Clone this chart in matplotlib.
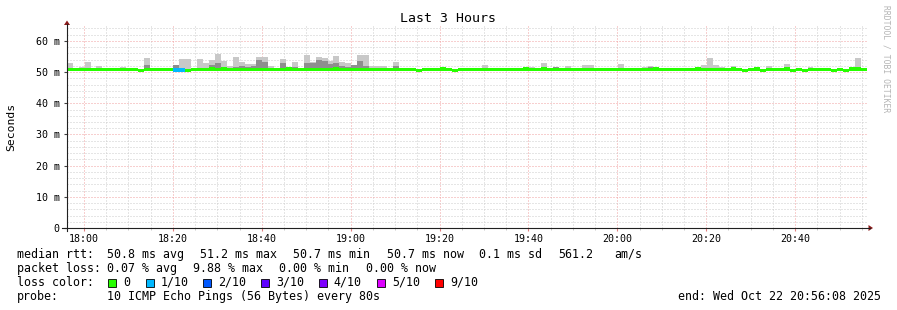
import matplotlib
matplotlib.use("Agg")
import matplotlib.pyplot as plt
from matplotlib.patches import Rectangle, Polygon
from matplotlib.lines import Line2D
import numpy as np

# --- data: 135 steps of 80 s, x in minutes relative to 18:00 ---
start_min = -3.867          # 17:56:08
step_min = 80 / 60.0

median = [50.8, 50.8, 50.8, 50.8, 50.8, 50.8, 50.8, 50.8, 50.8, 50.8, 50.8, 50.8, 50.5, 50.8, 50.8,
          50.8, 50.8, 50.8, 50.7, 50.7, 50.5, 50.8, 50.8, 50.8, 51.0, 50.8, 51.0, 50.8, 50.8, 50.8,
          50.8, 50.8, 50.8, 50.8, 50.8, 50.8, 50.8, 51.0, 50.8, 50.8, 50.8, 50.8, 50.8, 50.8, 50.8,
          51.0, 50.8, 50.8, 50.8, 50.8, 50.8, 50.8, 50.8, 50.8, 50.8, 50.8, 50.8, 50.8, 50.8, 50.5,
          50.8, 50.8, 50.8, 51.0, 50.8, 50.5, 50.8, 50.8, 50.8, 50.8, 50.8, 50.8, 50.8, 50.8, 50.8,
          50.8, 50.8, 51.0, 50.8, 50.8, 51.0, 50.8, 50.8, 50.8, 50.8, 50.8, 50.8, 50.8, 50.8, 50.8,
          50.8, 50.8, 50.8, 50.8, 50.8, 50.8, 50.8, 50.8, 50.8, 51.0, 50.8, 50.8, 50.8, 50.8, 50.8,
          50.8, 51.0, 50.8, 50.8, 50.8, 50.8, 50.8, 51.0, 50.8, 50.5, 50.8, 51.0, 50.5, 50.8, 50.8,
          50.8, 51.0, 50.5, 50.8, 50.5, 50.8, 50.8, 50.8, 50.8, 50.5, 50.8, 50.5, 51.0, 51.0, 50.8]

ping_max = [52.8, 51.1, 51.7, 53.2, 51.1, 51.9, 51.1, 51.3, 51.1, 51.7, 51.1, 51.3, 51.0, 54.5, 51.2,
            51.1, 51.2, 51.1, 52.4, 54.2, 54.2, 51.1, 54.2, 52.9, 53.9, 55.8, 53.5, 51.9, 54.9, 53.2,
            52.6, 52.6, 54.9, 54.9, 51.9, 51.2, 54.2, 51.2, 53.2, 51.1, 55.4, 53.2, 54.9, 54.4, 53.5,
            55.1, 53.2, 52.8, 52.4, 55.5, 55.5, 51.9, 51.9, 51.9, 51.1, 53.2, 51.1, 51.2, 51.1, 51.0,
            51.1, 51.2, 51.1, 51.2, 51.1, 51.0, 51.2, 51.1, 51.1, 51.1, 52.4, 51.1, 51.2, 51.1, 51.1,
            51.1, 51.1, 51.2, 51.6, 51.1, 52.8, 51.1, 51.6, 51.1, 51.9, 51.1, 51.1, 52.4, 52.4, 51.1,
            51.2, 51.1, 51.1, 52.6, 51.1, 51.1, 51.1, 51.6, 51.9, 51.2, 51.1, 51.1, 51.1, 51.1, 51.1,
            51.1, 51.2, 52.4, 54.5, 52.4, 51.6, 51.1, 51.9, 51.2, 51.0, 51.2, 51.2, 51.0, 51.9, 51.1,
            51.1, 52.6, 51.1, 51.1, 51.0, 51.6, 51.1, 51.1, 51.1, 51.0, 51.1, 51.0, 51.2, 54.5, 51.1]

ping_dark = [50.9, 50.9, 50.9, 50.9, 50.9, 50.9, 50.9, 50.9, 50.9, 50.9, 50.9, 50.9, 50.9, 52.4, 50.9,
             50.9, 50.9, 50.9, 52.2, 50.9, 50.9, 50.9, 50.9, 50.9, 52.4, 53.0, 50.9, 50.9, 51.5, 52.0,
             51.5, 51.9, 53.9, 53.2, 50.9, 50.9, 52.9, 50.9, 51.5, 50.9, 53.0, 52.9, 54.0, 53.5, 52.7,
             52.9, 52.0, 51.6, 52.2, 53.5, 51.9, 50.9, 50.9, 50.9, 50.9, 51.8, 50.9, 50.9, 50.9, 50.9,
             50.9, 51.2, 50.9, 50.9, 50.9, 50.9, 51.2, 50.9, 50.9, 50.9, 51.2, 50.9, 50.9, 50.9, 50.9,
             50.9, 50.9, 50.9, 50.9, 50.9, 51.5, 50.9, 51.6, 50.9, 50.9, 50.9, 50.9, 50.9, 50.9, 50.9,
             50.9, 50.9, 50.9, 50.9, 50.9, 50.9, 50.9, 50.9, 51.6, 50.9, 50.9, 50.9, 50.9, 50.9, 50.9,
             50.9, 50.9, 50.9, 51.2, 50.9, 50.9, 50.9, 50.9, 50.9, 50.9, 50.9, 50.9, 50.9, 50.9, 50.9,
             50.9, 50.9, 50.9, 50.9, 50.9, 50.9, 50.9, 50.9, 50.9, 50.9, 50.9, 50.9, 50.9, 50.9, 50.9]

# lost pings out of 10 per step
loss = [0] * 135
loss[18] = 1
loss[19] = 1

loss_colors = {0: "#26ff00", 1: "#00b8ff", 2: "#0059ff", 3: "#5e00ff",
               4: "#7e00ff", 5: "#dd00ff", 9: "#ff0000"}
loss_labels = ["0", "1/10", "2/10", "3/10", "4/10", "5/10", "9/10"]
loss_keys = [0, 1, 2, 3, 4, 5, 9]

xtick_pos = [0, 20, 40, 60, 80, 100, 120, 140, 160]
xtick_lab = ["18:00", "18:20", "18:40", "19:00", "19:20", "19:40", "20:00", "20:20", "20:40"]
ytick_pos = [0, 10, 20, 30, 40, 50, 60]
ytick_lab = ["0", "10 m", "20 m", "30 m", "40 m", "50 m", "60 m"]

W, H = 897, 310
MONO = "DejaVu Sans Mono"

fig = plt.figure(figsize=(W / 100, H / 100), dpi=100)
fig.patch.set_facecolor("white")
ax = fig.add_axes([66.8 / W, 82 / H, 800 / W, 203 / H])
ax.set_facecolor("white")

n = len(median)
med = np.array(median)
left = start_min + step_min * np.arange(n)

# smoke
ax.bar(left, np.array(ping_max) - (med - 0.3), bottom=med - 0.3, width=step_min,
       align="edge", color="#c8c8c8", linewidth=0, antialiased=False, zorder=2)
ax.bar(left, np.array(ping_dark) - med, bottom=med, width=step_min,
       align="edge", color="#8e8e8e", linewidth=0, antialiased=False, zorder=3)
# median coloured by loss
ax.bar(left, 1.1, bottom=med - 0.55, width=step_min, align="edge",
       color=[loss_colors[l] for l in loss], linewidth=0, antialiased=False, zorder=4)

ax.set_xticks(xtick_pos)
ax.set_xticklabels(xtick_lab, fontfamily=MONO, fontsize=7.2)
ax.set_xticks(np.arange(0, 180, 5), minor=True)
ax.set_yticks(ytick_pos)
ax.set_yticklabels(ytick_lab, fontfamily=MONO, fontsize=7.2)
ax.set_yticks(np.arange(0, 66, 2), minor=True)
ax.set_xlim(start_min, start_min + step_min * n)
ax.set_ylim(0, 65.1)

ax.grid(which="minor", color="#cccccc", linestyle=(0, (1, 2)), linewidth=0.72, zorder=1)
ax.grid(which="major", color="#f0a0a0", linestyle=(0, (1, 2)), linewidth=0.72, zorder=1)
ax.set_axisbelow(True)
ax.tick_params(axis="x", which="major", length=2, pad=2.5, color="#e08080")
ax.tick_params(axis="x", which="minor", length=1.5, color="#c0c0c0")
ax.tick_params(axis="y", which="major", length=2, pad=3, color="#404040")
ax.tick_params(axis="y", which="minor", length=0)
for s in ax.spines.values():
    s.set_visible(False)


def px(x, y):
    return x / W, 1 - y / H


# axes lines and arrows
fig.add_artist(Line2D([62 / W, 870 / W], [1 - 228 / H] * 2, color="#202020", lw=0.8))
fig.add_artist(Line2D([67 / W] * 2, [1 - 231 / H, 1 - 24 / H], color="#202020", lw=0.8))
fig.add_artist(Polygon([px(873, 228), px(868.5, 225), px(868.5, 231)], closed=True,
                       transform=fig.transFigure, color="#8b1a1a", lw=0))
fig.add_artist(Polygon([px(67, 20.5), px(64, 25), px(70, 25)], closed=True,
                       transform=fig.transFigure, color="#8b1a1a", lw=0))

fig.text(*px(448, 19), "Last 3 Hours", fontfamily=MONO, fontsize=9.5, ha="center", va="center")
fig.text(*px(11, 127), "Seconds", fontfamily=MONO, fontsize=8.2, rotation=90,
         ha="center", va="center")
fig.text(*px(886, 59), "RRDTOOL / TOBI OETIKER", fontfamily=MONO, fontsize=5.8,
         rotation=270, ha="center", va="center", color="#b4b4b4")

FS = 8.4
rows = [
    (254.3, [(16.7, "median rtt:"), (107.3, "50.8 ms avg"), (200.0, "51.2 ms max"),
             (293.3, "50.7 ms min"), (386.7, "50.7 ms now"), (479.3, "0.1 ms sd"),
             (558.3, "561.2"), (614.3, "am/s")]),
    (268.3, [(16.7, "packet loss:"), (107.3, "0.07 % avg"), (193.3, "9.88 % max"),
             (279.3, "0.00 % min"), (365.7, "0.00 % now")]),
    (282.3, [(16.7, "loss color:")]),
    (296.3, [(16.7, "probe:"), (107.3, "10 ICMP Echo Pings (56 Bytes) every 80s"),
             (678.3, "end: Wed Oct 22 20:56:08 2025")]),
]
for y, items in rows:
    for x, s in items:
        fig.text(*px(x, y), s, fontfamily=MONO, fontsize=FS, ha="left", va="center")

box_x = [108.3, 146.0, 203.3, 261.3, 319.3, 377.3, 435.3]
for bx, key, lab in zip(box_x, loss_keys, loss_labels):
    fig.add_artist(Rectangle(px(bx, 286.5), 7.5 / W, 8 / H, transform=fig.transFigure,
                             facecolor=loss_colors[key], edgecolor="black", lw=0.6))
    fig.text(*px(bx + 14.5, 282.3), lab, fontfamily=MONO, fontsize=FS, ha="left", va="center")

fig.savefig("out.png", dpi=100, facecolor="white")
